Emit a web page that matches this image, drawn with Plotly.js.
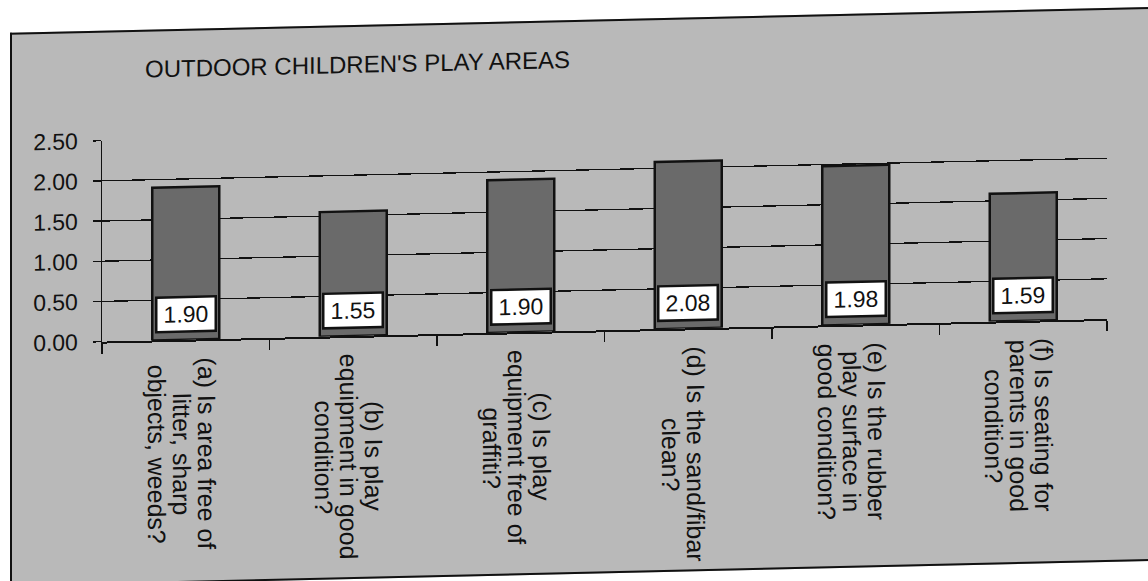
<!DOCTYPE html>
<html>
<head>
<meta charset="utf-8">
<script src="https://cdn.plot.ly/plotly-3.0.1.min.js"></script>
<style>
  html, body { margin: 0; padding: 0; background: #ffffff; width: 1148px; height: 581px; overflow: hidden; }
  #frame {
    position: absolute; left: 10px; top: 20px;
    width: 1138px; height: 550px;
    border-left: 2px solid #111; border-top: 2px solid #111; border-bottom: 2px solid #111;
    background: #b9b9b9;
    transform-origin: 564px 0px;
    transform: skewY(-1.29deg);
  }
  #chart { width: 1136px; height: 550px; }
</style>
</head>
<body>
<div id="frame"><div id="chart"></div></div>
<script>
// ---- data ----
const chartTitle = "OUTDOOR CHILDREN'S PLAY AREAS";
const categories = [
  "(a) Is area free of<br>litter, sharp<br>objects, weeds?",
  "(b) Is play<br>equipment in good<br>condition?",
  "(c) Is play<br>equipment free of<br>graffiti?",
  "(d) Is the sand/fibar<br>clean?",
  "(e) Is the rubber<br>play surface in<br>good condition?",
  "(f) Is seating for<br>parents in good<br>condition?"
];
const values = [1.90, 1.55, 1.90, 2.08, 1.98, 1.59];
const yTickValues = [0, 0.5, 1.0, 1.5, 2.0, 2.5];
const yTickLabels = ["0.00", "0.50", "1.00", "1.50", "2.00", "2.50"];

// ---- styling ----
const FONT = '"Liberation Sans", Arial, Helvetica, sans-serif';
const INK = '#111111';
const labelSize = 25;
const lineStep = 25;

const canvas = document.createElement('canvas');
const ctx = canvas.getContext('2d');
ctx.font = labelSize + 'px "Liberation Sans", Arial, sans-serif';

const annotations = [];

// value boxes at the foot of each bar
categories.forEach((c, i) => {
  annotations.push({
    x: c, xref: 'x', y: 0.32, yref: 'y',
    text: values[i].toFixed(2),
    showarrow: false,
    font: { family: FONT, size: 23, color: INK },
    bgcolor: '#ffffff', bordercolor: INK, borderwidth: 2.5, borderpad: 1,
    width: 55, height: 30, xanchor: 'center', yanchor: 'middle'
  });
});

// rotated category labels, one annotation per line (tight line spacing)
categories.forEach((c) => {
  const lines = c.split('<br>');
  const n = lines.length;
  const maxLen = Math.max(...lines.map(l => ctx.measureText(l).width));
  lines.forEach((line, j) => {
    annotations.push({
      x: c, xref: 'x', y: 0, yref: 'paper',
      text: line, showarrow: false, textangle: 90,
      font: { family: FONT, size: labelSize, color: INK },
      xanchor: 'center', yanchor: 'middle',
      xshift: ((n - 1) / 2 - j) * lineStep - 4,
      yshift: -(18 + maxLen / 2)
    });
  });
});

const trace = {
  type: 'bar',
  x: categories,
  y: values,
  width: 0.4,
  marker: { color: '#6a6a6a', line: { color: INK, width: 2.5 } },
  hoverinfo: 'none'
};

const layout = {
  width: 1136, height: 550,
  margin: { l: 90, r: 41, t: 108, b: 241, pad: 0 },
  paper_bgcolor: 'rgba(0,0,0,0)',
  plot_bgcolor: 'rgba(0,0,0,0)',
  showlegend: false,
  title: {
    text: chartTitle,
    font: { family: FONT, size: 24, color: INK },
    xref: 'container', yref: 'container',
    x: 133 / 1136, xanchor: 'left',
    y: 1 - 37.5 / 550, yanchor: 'middle'
  },
  xaxis: {
    type: 'category',
    showticklabels: false,
    showgrid: false,
    showline: true, linecolor: INK, linewidth: 2,
    ticks: 'outside', tickson: 'boundaries', ticklen: 10, tickwidth: 1.5, tickcolor: INK,
    zeroline: false
  },
  yaxis: {
    range: [0, 2.5],
    tickvals: yTickValues,
    ticktext: yTickLabels,
    tickfont: { family: FONT, size: 23, color: INK },
    showgrid: true, gridcolor: INK, gridwidth: 1.3,
    showline: true, linecolor: INK, linewidth: 1.5,
    ticks: 'outside', ticklen: 8, tickwidth: 1.5, tickcolor: INK,
    ticklabelstandoff: 10,
    zeroline: false
  },
  annotations: annotations
};

Plotly.newPlot('chart', [trace], layout, { displayModeBar: false, staticPlot: true });
</script>
</body>
</html>
